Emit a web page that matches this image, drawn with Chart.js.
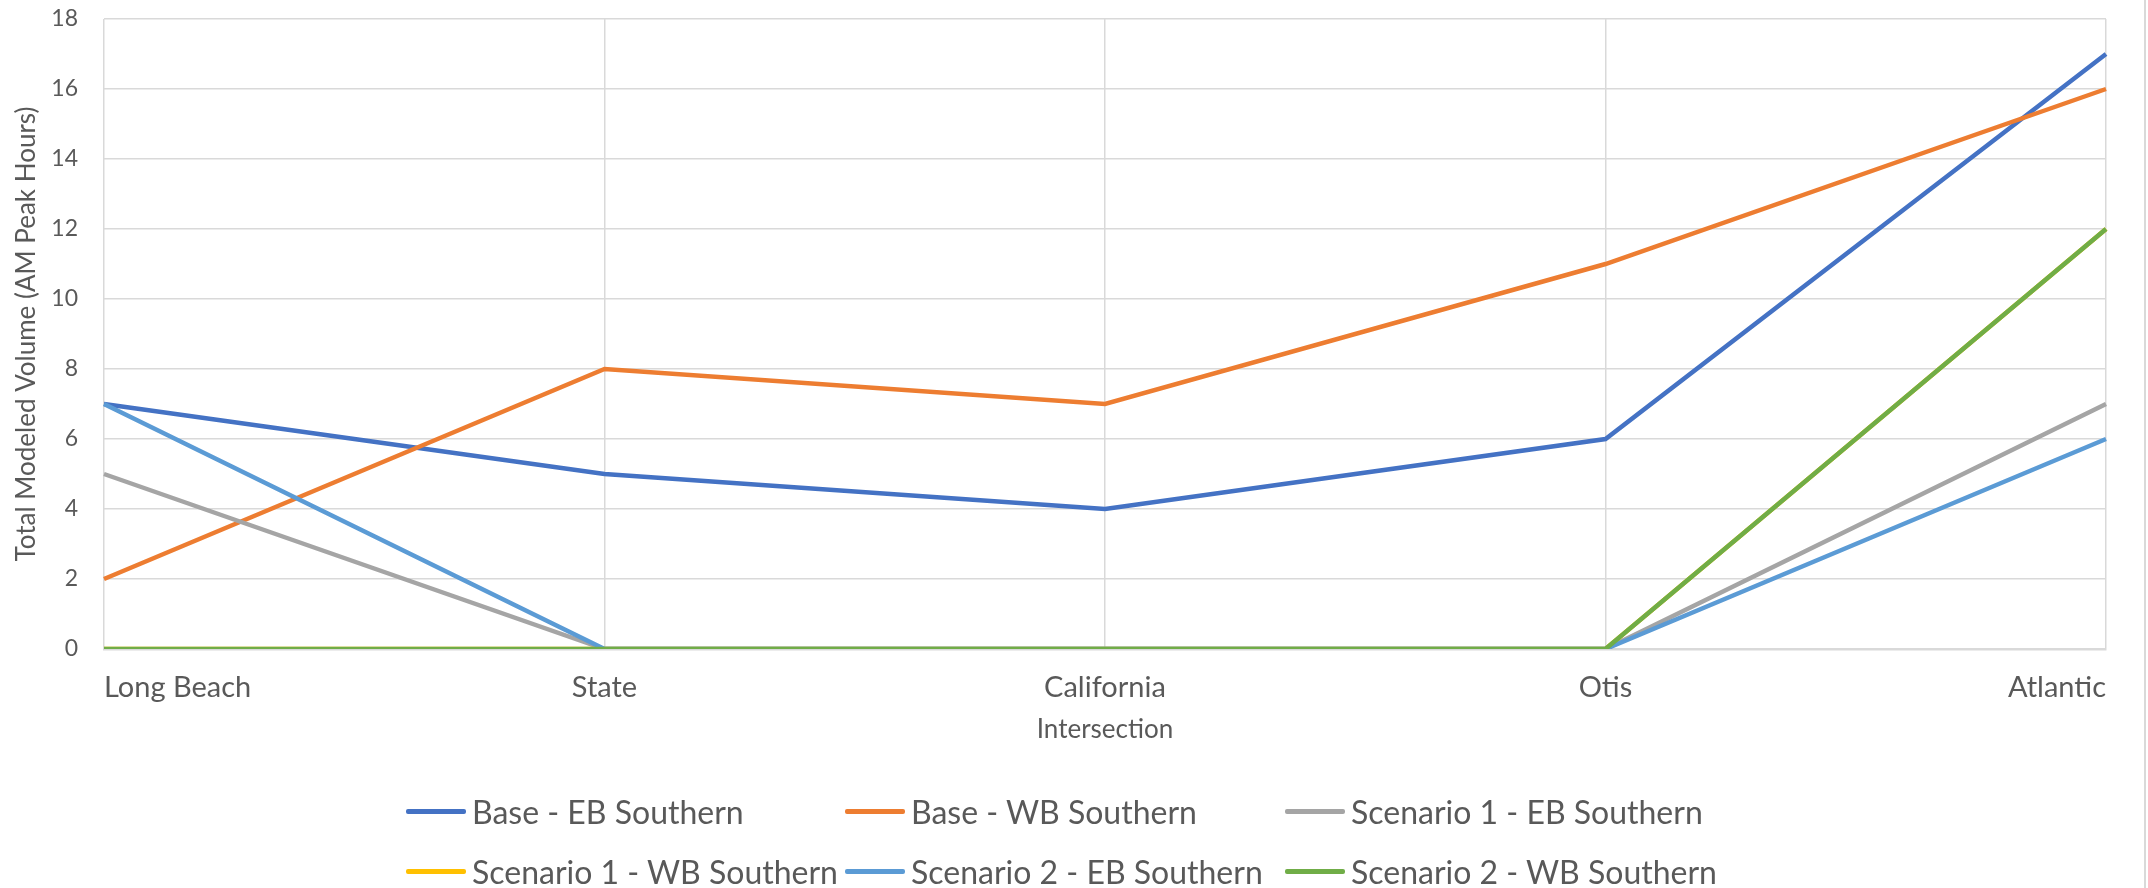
<!DOCTYPE html>
<html>
<head>
<meta charset="utf-8">
<script src="https://cdn.jsdelivr.net/npm/chart.js@4.4.1/dist/chart.umd.min.js"></script>
<style>
  html, body { margin: 0; padding: 0; background: #fff; }
  #wrap { position: relative; width: 2148px; height: 888px; overflow: hidden; }
  #frame { position: absolute; left: 2144px; top: 0; width: 2px; height: 888px; background: #d9d9d9; }
  #legend { position: absolute; left: 406px; top: 790px; display: grid;
    grid-template-columns: 439px 440px 440px; row-gap: 17px;
    font-family: Lato, 'Noto Sans', sans-serif; font-size: 32px; color: #595959; }
  .item { display: flex; align-items: center; height: 43px; white-space: nowrap; }
  .swatch { width: 60px; height: 5px; margin-right: 6px; border-radius: 2px; }
</style>
</head>
<body>
<div id="wrap">
  <canvas id="chart" width="2148" height="888"></canvas>
  <div id="frame"></div>
  <div id="legend"></div>
</div>
<script>
var categories = ['Long Beach', 'State', 'California', 'Otis', 'Atlantic'];
var yTicks = [0, 2, 4, 6, 8, 10, 12, 14, 16, 18];

var seriesNames = [
    'Base - EB Southern',
    'Base - WB Southern',
    'Scenario 1 - EB Southern',
    'Scenario 1 - WB Southern',
    'Scenario 2 - EB Southern',
    'Scenario 2 - WB Southern'
];
var baseEB = [7, 5, 4, 6, 17];
var baseWB = [2, 8, 7, 11, 16];
var scen1EB = [5, 0, 0, 0, 7];
var scen1WB = [0, 0, 0, 0, 12];   // hidden under Scenario 2 - WB in the original
var scen2EB = [7, 0, 0, 0, 6];
var scen2WB = [0, 0, 0, 0, 12];
var colors = ['#4472C4', '#ED7D31', '#A5A5A5', '#FFC000', '#5B9BD5', '#70AD47'];

var allValues = [baseEB, baseWB, scen1EB, scen1WB, scen2EB, scen2WB];
var textColor = '#595959';
var fontFamily = 'Lato, "Noto Sans", sans-serif';

var datasets = [];
for (var i = 0; i < allValues.length; i++) {
    datasets.push({
        label: seriesNames[i],
        data: allValues[i],
        borderColor: colors[i],
        backgroundColor: colors[i],
        borderWidth: 4.5,
        pointRadius: 0,
        tension: 0,
        order: allValues.length - i
    });
}

var ctx = document.getElementById('chart').getContext('2d');
var chart = new Chart(ctx, {
    type: 'line',
    data: { labels: categories, datasets: datasets },
    options: {
        responsive: false,
        animation: false,
        layout: { padding: { left: 0, right: 42, top: 19, bottom: 139 } },
        plugins: {
            legend: { display: false },
            tooltip: { enabled: false }
        },
        scales: {
            x: {
                offset: false,
                grid: { color: '#d9d9d9', lineWidth: 1.5, drawTicks: false },
                border: { color: '#d9d9d9', width: 2.5 },
                ticks: {
                    align: 'inner',
                    color: textColor,
                    padding: 21,
                    maxRotation: 0,
                    font: { family: fontFamily, size: 29 }
                },
                title: {
                    display: true,
                    text: 'Intersection',
                    color: textColor,
                    font: { family: fontFamily, size: 26 },
                    padding: { top: 1, bottom: 4 }
                },
                afterFit: function(scale) { scale.height = 100; }
            },
            y: {
                min: 0,
                max: 18,
                afterBuildTicks: function(scale) {
                    scale.ticks = yTicks.map(function(v) { return { value: v }; });
                },
                grid: { color: '#d9d9d9', lineWidth: 1.5, drawTicks: false },
                border: { display: false },
                ticks: {
                    color: textColor,
                    padding: 26,
                    font: { family: fontFamily, size: 23 }
                },
                title: {
                    display: true,
                    text: 'Total Modeled Volume (AM Peak Hours)',
                    color: textColor,
                    font: { family: fontFamily, size: 26 },
                    padding: { top: 11, bottom: 0 }
                },
                afterFit: function(scale) {
                    scale.width = 104;
                    // the tick padding would otherwise push the plot top down
                    scale.paddingTop = 0;
                    scale.paddingBottom = 0;
                }
            }
        }
    }
});

// HTML legend, 3 columns like the original
var legendDiv = document.getElementById('legend');
chart.data.datasets.forEach(function(ds) {
    var item = document.createElement('div');
    item.className = 'item';
    item.innerHTML = '<span class="swatch" style="background:' + ds.borderColor + '"></span>' + ds.label;
    legendDiv.appendChild(item);
});
</script>
</body>
</html>
